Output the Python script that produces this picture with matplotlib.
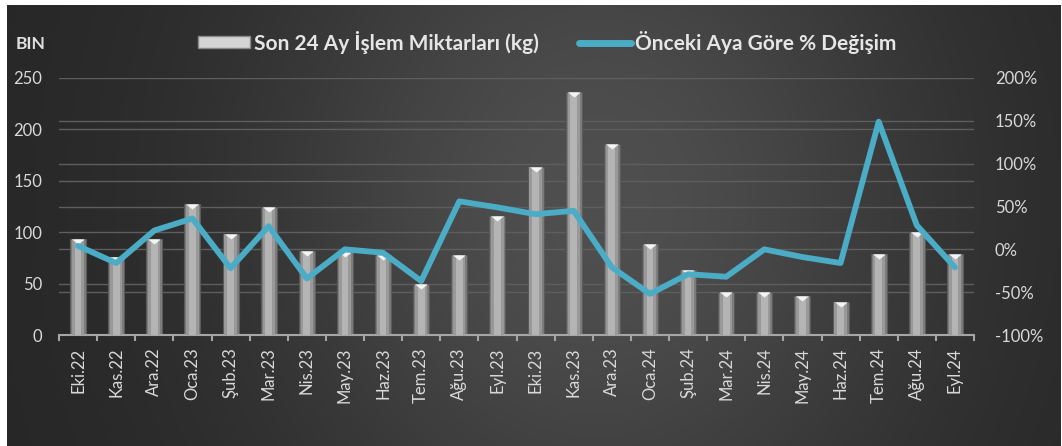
import numpy as np
import matplotlib.pyplot as plt
from matplotlib.lines import Line2D
from matplotlib.patches import Rectangle
from matplotlib.path import Path

plt.rcParams['font.family'] = ['Lato', 'DejaVu Sans']

# Data
months = ['Eki.22', 'Kas.22', 'Ara.22', 'Oca.23', 'Şub.23', 'Mar.23', 'Nis.23', 'May.23',
          'Haz.23', 'Tem.23', 'Ağu.23', 'Eyl.23', 'Eki.23', 'Kas.23', 'Ara.23', 'Oca.24',
          'Şub.24', 'Mar.24', 'Nis.24', 'May.24', 'Haz.24', 'Tem.24', 'Ağu.24', 'Eyl.24']
volumes = [93, 76, 93, 127, 98, 125, 82, 81, 78, 50, 78, 116,
           163, 236, 186, 89, 63, 42, 42, 38, 32, 79, 100, 79]
pct_change = [4, -16, 22, 36, -22, 27, -34, 0, -4, -37, 56, 49,
              41, 45, -21, -52, -29, -32, 0, -9, -16, 149, 28, -21]
left_ticks = [0, 50, 100, 150, 200, 250]
right_ticks = [-100, -50, 0, 50, 100, 150, 200]

bar_label = 'Son 24 Ay İşlem Miktarları (kg)'
line_label = 'Önceki Aya Göre % Değişim'
txt_col = '#d9d9d9'
line_col = '#4bacc6'
grid_col = '#5e5e5e'

W, H = 1062, 446
fig = plt.figure(figsize=(W / 100, H / 100), dpi=100)
fig.patch.set_facecolor('white')

# dark radial-ish background
bg = fig.add_axes([7 / W, 0, 1 - 8 / W, 1 - 5 / H])
gx, gy = np.meshgrid(np.linspace(0, 1, 400), np.linspace(0, 1, 200))
glow = np.exp(-((gx - 0.56) / 0.33) ** 2 - ((gy - 0.45) / 0.9) ** 2)
shade = (0x26 + (0x4f - 0x26) * glow) / 255
bg.imshow(np.dstack([shade, shade, shade]), aspect='auto', extent=[0, 1, 0, 1])
bg.set_axis_off()

ax = fig.add_axes([59 / W, 111 / H, 915 / W, 257 / H])
ax.patch.set_alpha(0)
x = np.arange(len(months))

ax.set_ylim(0, 250)
ax.set_xlim(-0.5, len(months) - 0.5)
r_lo, r_hi = right_ticks[0], right_ticks[-1]
for t in left_ticks[1:]:
    ax.axhline(t, color=grid_col, lw=1, zorder=1)
for t in right_ticks[1:-1]:
    ax.axhline((t - r_lo) / (r_hi - r_lo) * 250, color=grid_col, lw=1, zorder=1)

# cylinder-looking bars
ax.bar(x, volumes, width=0.42, color='#7d7d7d', edgecolor='#5a5a5a', lw=0.8, zorder=2)
ax.bar(x, volumes, width=0.32, color='#999999', lw=0, zorder=3)
ax.bar(x, volumes, width=0.18, color='#b4b4b4', lw=0, zorder=4)
tri = Path([(-1, 0), (1, 0), (0, -0.8), (-1, 0)])
ax.plot(x, volumes, ls='none', marker=tri, markersize=9, color='#f4f4f4',
        markeredgewidth=0, zorder=5)

ax.set_yticks(left_ticks)
ax.set_xticks(x)
ax.set_xticklabels(months, rotation=90)
ax.set_xticks(np.arange(-0.5, len(months)), minor=True)
ax.tick_params(axis='y', length=0, pad=12, labelsize=12, labelcolor=txt_col)
ax.tick_params(axis='x', which='major', length=0, pad=9, labelsize=12, labelcolor=txt_col)
ax.tick_params(axis='x', which='minor', length=4, width=1.5, color='#a6a6a6', direction='out')
for s in ['top', 'right', 'left']:
    ax.spines[s].set_visible(False)
ax.spines['bottom'].set_color('#a6a6a6')
ax.spines['bottom'].set_linewidth(1.5)

ax2 = ax.twinx()
ax2.plot(x, pct_change, color=line_col, lw=4.2, solid_capstyle='round',
         solid_joinstyle='round', zorder=6)
ax2.set_ylim(r_lo, r_hi)
ax2.set_yticks(right_ticks)
ax2.set_yticklabels([f'{t}%' for t in right_ticks])
ax2.tick_params(axis='y', length=0, pad=15, labelsize=12, labelcolor=txt_col)
for s in ax2.spines.values():
    s.set_visible(False)

fig.text(16 / W, 1 - 44 / H, 'BIN', fontsize=12.5, fontweight='bold', color='#e0e0e0',
         va='center', ha='left')

handles = [Rectangle((0, 0), 1, 1, facecolor='#d4d4d4', edgecolor='#8a8a8a', lw=1),
           Line2D([0], [0], color=line_col, lw=5, solid_capstyle='round')]
leg = fig.legend(handles, [bar_label, line_label], ncol=2, loc='center',
                 bbox_to_anchor=(547 / W, 1 - 42 / H), frameon=False,
                 prop={'size': 15, 'weight': 'bold'}, labelcolor='#e6e6e6',
                 handlelength=2.5, handleheight=0.5, handletextpad=0.2,
                 columnspacing=1.9)

fig.savefig('out.png', dpi=100, facecolor=fig.get_facecolor())
